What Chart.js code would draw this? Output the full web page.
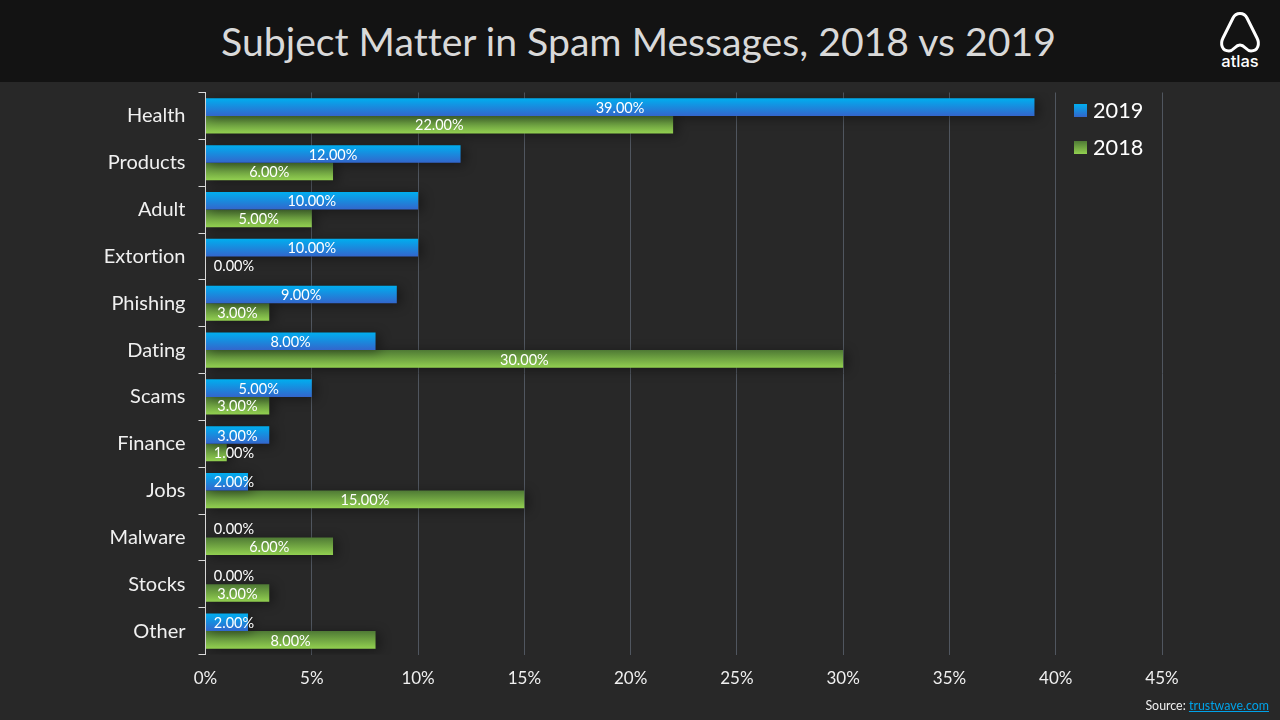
<!DOCTYPE html>
<html>
<head>
<meta charset="utf-8">
<title>Subject Matter in Spam Messages</title>
<script src="https://cdn.jsdelivr.net/npm/chart.js@4"></script>
<style>
  html, body { margin: 0; padding: 0; background: #282828; overflow: hidden; }
  body { width: 1280px; height: 720px; position: relative; font-family: Lato, sans-serif; font-variant-ligatures: none; }
  #band { position: absolute; left: 0; top: 0; width: 1280px; height: 82px; background: #131313; }
  #title { position: absolute; left: 0; top: 0; width: 1277px; height: 82px; line-height: 82px; text-align: center;
           font-size: 39.2px; color: #d9d9d9; }
  #logo { position: absolute; left: 1215px; top: 8px; width: 50px; height: 62px; }
  #myChart { position: absolute; left: 0; top: 0; }
  .legendRow { position: absolute; left: 1074px; height: 28px; line-height: 28px; font-size: 21.7px; color: #fff; }
  .legendRow i { display: inline-block; width: 13px; height: 13px; margin-right: 6px; vertical-align: 1px; }
  #source { position: absolute; right: 11px; top: 698px; font-size: 12.4px; color: #f0f0f0; }
  #source a { color: #00a2e8; text-decoration: underline; }
</style>
</head>
<body>
<div id="band"></div>
<div id="title">Subject Matter in Spam Messages, 2018 vs 2019</div>
<svg id="logo" viewBox="1215 8 50 62">
  <path d="M1229 51 C1222 51 1220 44 1223 38 L1233 18 C1236 12 1244 12 1247 18 L1257 38 C1260 44 1258 51 1251 51 C1246 51 1245 45 1240 45 C1235 45 1234 51 1229 51 Z"
        fill="none" stroke="#fff" stroke-width="3"/>
  <text x="1240" y="67" text-anchor="middle" font-size="16.5" font-weight="500" font-family="Inter, Lato, sans-serif" fill="#fff">atlas</text>
</svg>
<canvas id="myChart" width="1280" height="720"></canvas>
<div id="legend"></div>
<div id="source">Source: <a href="#">trustwave.com</a></div>

<script>
const categories = ['Health', 'Products', 'Adult', 'Extortion', 'Phishing', 'Dating', 'Scams', 'Finance', 'Jobs', 'Malware', 'Stocks', 'Other'];
const values2019 = [39, 12, 10, 10, 9, 8, 5, 3, 2, 0, 0, 2];
const values2018 = [22, 6, 5, 0, 3, 30, 3, 1, 15, 6, 3, 8];
const seriesNames = ['2019', '2018'];

const blueStops = ['#00aeef', '#3366cc'];
const greenStops = ['#4f7a35', '#92d050'];

// each bar gets its own top to bottom gradient, the category centre is known after layout
function barGradient(context, stops, above) {
    const chart = context.chart;
    const yScale = chart.scales.y;
    const center = yScale ? yScale.getPixelForValue(context.dataIndex) : NaN;
    if (!Number.isFinite(center)) {
        return stops[0]; // asked before layout
    }
    const h = yScale.height / categories.length * 0.75 / 2;
    const top = above ? center - h : center;
    const gradient = chart.ctx.createLinearGradient(0, top, 0, top + h);
    gradient.addColorStop(0, stops[0]);
    gradient.addColorStop(1, stops[1]);
    return gradient;
}

const barShadow = {
    id: 'barShadow',
    beforeDatasetDraw(chart) {
        const ctx = chart.ctx;
        ctx.save();
        ctx.shadowColor = 'rgba(0,0,0,0.4)';
        ctx.shadowBlur = 12;
        ctx.shadowOffsetX = 4;
        ctx.shadowOffsetY = 2;
    },
    afterDatasetDraw(chart) {
        chart.ctx.restore();
    }
};

const barLabels = {
    id: 'barLabels',
    afterDatasetsDraw(chart) {
        const ctx = chart.ctx;
        const zero = chart.scales.x.getPixelForValue(0);
        ctx.save();
        ctx.font = '14.5px Lato';
        ctx.fillStyle = '#fff';
        ctx.textAlign = 'center';
        ctx.textBaseline = 'middle';
        chart.data.datasets.forEach((dataset, i) => {
            chart.getDatasetMeta(i).data.forEach((bar, j) => {
                // short bars: label stays clear of the axis
                const x = Math.max((bar.x + zero) / 2, zero + 28.5);
                ctx.fillText(dataset.data[j].toFixed(2) + '%', x, bar.y + 1);
            });
        });
        ctx.restore();
    }
};

const ctx = document.getElementById('myChart').getContext('2d');

const myChart = new Chart(ctx, {
    type: 'bar',
    data: {
        labels: categories,
        datasets: [{
            label: seriesNames[0],
            data: values2019,
            backgroundColor: (c) => barGradient(c, blueStops, true),
        },
        {
            label: seriesNames[1],
            data: values2018,
            backgroundColor: (c) => barGradient(c, greenStops, false),
        }]
    },
    plugins: [barShadow, barLabels],
    options: {
        indexAxis: 'y',
        responsive: false,
        animation: false,
        datasets: { bar: { categoryPercentage: 0.75, barPercentage: 1 } },
        layout: { padding: { top: 92.5, right: 118, left: 0, bottom: 0 } },
        plugins: { legend: { display: false }, tooltip: { enabled: false } },
        scales: {
            x: {
                min: 0,
                max: 45,
                afterFit: (scale) => { scale.height = 65.5; },
                ticks: {
                    stepSize: 5,
                    padding: 14,
                    maxRotation: 0,
                    color: '#f0f0f0',
                    font: { family: 'Lato', size: 17 },
                    callback: (value) => value + '%',
                },
                grid: { color: '#50565f', lineWidth: 1, drawTicks: false },
                border: { display: false },
            },
            y: {
                afterFit: (scale) => { scale.width = 205.5; },
                ticks: {
                    padding: 13,
                    color: '#f0f0f0',
                    font: { family: 'Lato', size: 20 },
                },
                grid: { drawOnChartArea: false, drawTicks: true, tickLength: 7, color: '#d9d9d9', lineWidth: 1 },
                border: { color: '#d9d9d9', width: 1 },
            }
        }
    },
});

// legend beside the last bars, built from the same series names
const legendBox = document.getElementById('legend');
[blueStops, greenStops].forEach((stops, i) => {
    const row = document.createElement('div');
    row.className = 'legendRow';
    row.style.top = (96 + i * 37) + 'px';
    const swatch = document.createElement('i');
    swatch.style.background = `linear-gradient(${stops[0]}, ${stops[1]})`;
    row.appendChild(swatch);
    row.appendChild(document.createTextNode(seriesNames[i]));
    legendBox.appendChild(row);
});
</script>
</body>
</html>
